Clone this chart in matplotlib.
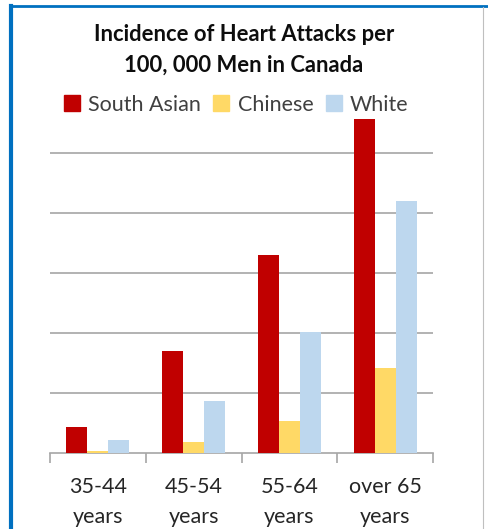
import matplotlib.pyplot as plt
import numpy as np
from matplotlib.lines import Line2D

plt.rcParams['font.family'] = ['Lato', 'DejaVu Sans']

# Heart attack incidence per 100,000 men
age_groups = ["35-44\nyears", "45-54\nyears", "55-64\nyears", "over 65\nyears"]
south_asian = [43, 170, 330, 557]
chinese = [3, 18, 53, 142]
white = [22, 87, 202, 420]

series = [("South Asian", south_asian, "#C00000"),
          ("Chinese", chinese, "#FFD966"),
          ("White", white, "#BDD7EE")]

W, H = 488, 529
fig = plt.figure(figsize=(W / 100, H / 100), dpi=100)

# Plot area in pixel coordinates
left, right, base, top = 50, 433, 453, 117
ax = fig.add_axes([left / W, (H - base) / H, (right - left) / W, (base - top) / H])

x = np.arange(len(age_groups))
bar_w = 0.22
for i, (name, vals, color) in enumerate(series):
    ax.bar(x + (i - 1) * bar_w, vals, bar_w, color=color, label=name,
           zorder=3, clip_on=False)

ax.set_xlim(-0.5, len(age_groups) - 0.5)
ax.set_ylim(0, 560)
ax.set_yticks([100, 200, 300, 400, 500])
ax.yaxis.grid(True, color="#A6A6A6", linewidth=1.2, zorder=0)
ax.tick_params(axis="y", left=False, labelleft=False)

for s in ["left", "right", "top"]:
    ax.spines[s].set_visible(False)
ax.spines["bottom"].set_color("#A6A6A6")
ax.spines["bottom"].set_linewidth(1.2)

# Category boundaries as tick marks, labels in between
ax.set_xticks(np.arange(len(age_groups) + 1) - 0.5)
ax.set_xticklabels([])
ax.tick_params(axis="x", length=7, width=1.2, color="#A6A6A6", direction="out")
ax.set_xticks(x, minor=True)
ax.set_xticklabels(age_groups, minor=True, fontsize=15.5, color="#262626",
                   linespacing=1.65)
ax.tick_params(axis="x", which="minor", length=0, pad=17)

fig.text(0.5, 1 - 50 / H, "Incidence of Heart Attacks per\n100, 000 Men in Canada",
         ha="center", va="center", fontsize=15.8, fontweight="bold",
         linespacing=1.55, color="#0D0D0D")

handles = [Line2D([], [], marker="s", linestyle="none", markersize=11,
                  markerfacecolor=c, markeredgecolor=c) for _, _, c in series]
fig.legend(handles, [n for n, _, _ in series], loc="center",
           bbox_to_anchor=(236 / W, 1 - 105 / H), ncol=3, frameon=False,
           fontsize=15.5, handletextpad=0.35, columnspacing=0.55,
           handlelength=0.8, labelcolor="#404040")

# Frame around the chart
fig.add_artist(Line2D([10 / W, 1], [1 - 6 / H] * 2, color="#0070C0", linewidth=2))
fig.add_artist(Line2D([11 / W] * 2, [0, 1 - 6 / H], color="#0070C0", linewidth=3))
fig.add_artist(Line2D([483 / W] * 2, [0, 1 - 7 / H], color="#BFBFBF", linewidth=0.8))

fig.savefig("out.png", dpi=100)
